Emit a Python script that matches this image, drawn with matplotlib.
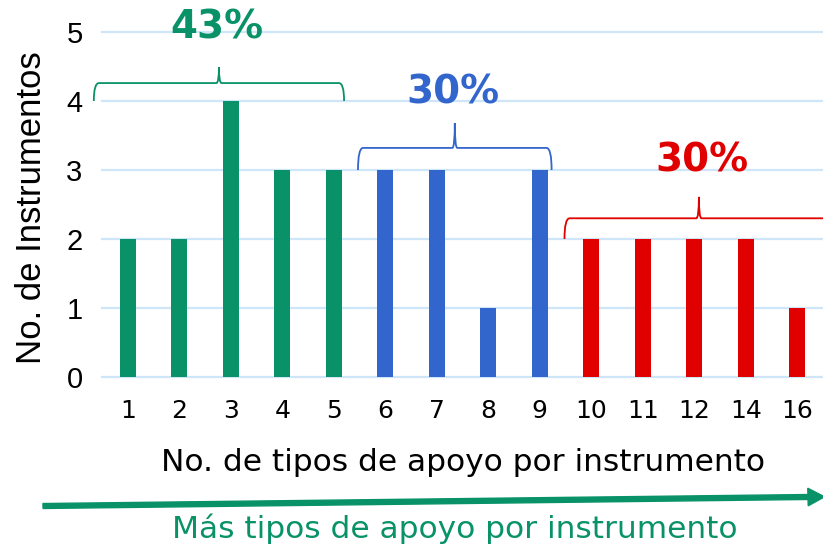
import numpy as np
import matplotlib
matplotlib.use("Agg")
import matplotlib.pyplot as plt
from matplotlib.path import Path
from matplotlib.patches import PathPatch, FancyArrow

# Data
categories = ["1", "2", "3", "4", "5", "6", "7", "8", "9", "10", "11", "12", "14", "16"]
counts = [2, 2, 4, 3, 3, 3, 3, 1, 3, 2, 2, 2, 2, 1]
group_sizes = [5, 4, 5]
group_labels = ["43%", "30%", "30%"]
group_colors = ["#099268", "#3366CC", "#E00000"]

colors = np.repeat(group_colors, group_sizes)
x = np.arange(len(categories))

WIDE = ["DejaVu Sans"]
ARIAL = ["Liberation Sans", "DejaVu Sans"]

fig = plt.figure(figsize=(8.23, 5.49), dpi=100)
ax = fig.add_axes([0.124, 0.3133, 0.876, 0.6284])

ax.bar(x, counts, width=0.31, color=colors, zorder=3)
ax.set_xlim(-0.5, 13.5)
ax.set_ylim(0, 5)
ax.set_yticks(range(6))
ax.grid(axis="y", color="#CFE6F8", linewidth=1.6, zorder=0)
for gl in ax.get_ygridlines():
    gl.set_clip_on(False)
for s in ax.spines.values():
    s.set_visible(False)
ax.set_xticks(x, categories)
ax.tick_params(length=0)
ax.tick_params(axis="y", pad=14, labelsize=21, labelfontfamily="Liberation Sans")
ax.tick_params(axis="x", pad=16, labelsize=18, labelfontfamily="DejaVu Sans")

ax.set_ylabel("No. de Instrumentos", fontsize=25, family=ARIAL)
ax.yaxis.set_label_coords(-0.075, 0.49)
ax.set_xlabel("No. de tipos de apoyo por instrumento", fontsize=22.5, family=WIDE, labelpad=18)


def brace(ax, x0, x1, y_end, y_h, y_tip, color):
    xm = (x0 + x1) / 2
    dx = 0.1
    tx = 0.05
    verts = [(x0, y_end), (x0, y_h), (x0 + dx, y_h),
             (xm - tx, y_h), (xm, y_h), (xm, y_tip),
             (xm, y_h), (xm + tx, y_h),
             (x1 - dx, y_h), (x1, y_h), (x1, y_end)]
    codes = [Path.MOVETO, Path.CURVE3, Path.CURVE3,
             Path.LINETO, Path.CURVE3, Path.CURVE3,
             Path.CURVE3, Path.CURVE3,
             Path.LINETO, Path.CURVE3, Path.CURVE3]
    ax.add_patch(PathPatch(Path(verts, codes), fill=False, edgecolor=color,
                           lw=1.3, clip_on=False, zorder=4))


# brace extents (data units) and label positions
brace_x = [(-0.66, 4.2), (4.47, 8.23), (8.48, 13.7)]
brace_y = [(4.0, 4.26, 4.49), (3.0, 3.32, 3.68), (2.0, 2.30, 2.61)]
label_pos = [(1.73, 5.06), (6.32, 4.12), (11.15, 3.14)]

for (x0, x1), (ye, yh, yt), (lx, ly), lab, c in zip(brace_x, brace_y, label_pos, group_labels, group_colors):
    brace(ax, x0, x1, ye, yh, yt, c)
    ax.text(lx, ly, lab, color=c, fontsize=28, fontweight="bold", family=WIDE,
            ha="center", va="center", clip_on=False)

fig.patches.append(FancyArrow(
    43 / 823, 1 - 506 / 549, (808 - 43) / 823, (506 - 497) / 549,
    width=0.009, head_width=0.032, head_length=0.02,
    color="#099268", transform=fig.transFigure, figure=fig))

fig.text(0.5525, 1 - 529 / 549, "Más tipos de apoyo por instrumento", color="#099268",
         fontsize=22.5, family=WIDE, ha="center", va="center")

fig.savefig("out.png", dpi=100)
